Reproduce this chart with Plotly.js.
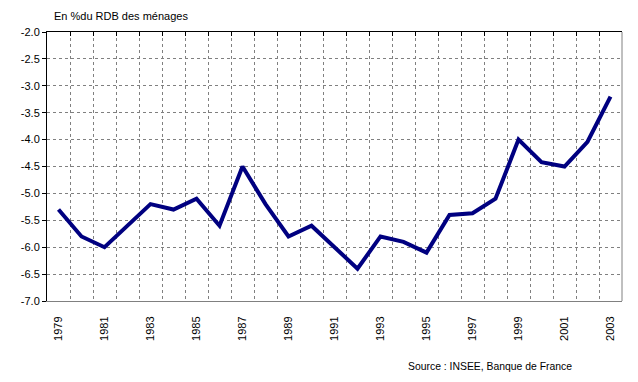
<!DOCTYPE html>
<html>
<head>
<meta charset="utf-8">
<script src="https://cdn.plot.ly/plotly-3.0.1.min.js"></script>
<style>
html,body{margin:0;padding:0;background:#fff;}
#chart{width:638px;height:382px;}
</style>
</head>
<body>
<div id="chart"></div>
<script>
const years = [1979,1980,1981,1982,1983,1984,1985,1986,1987,1988,1989,1990,1991,1992,1993,1994,1995,1996,1997,1998,1999,2000,2001,2002,2003];
const values = [-5.3,-5.8,-6.0,-5.6,-5.2,-5.3,-5.1,-5.6,-4.5,-5.2,-5.8,-5.6,-6.0,-6.4,-5.8,-5.9,-6.1,-5.4,-5.37,-5.1,-4.0,-4.42,-4.5,-4.04,-3.2];
const labelYears = [1979,1981,1983,1985,1987,1989,1991,1993,1995,1997,1999,2001,2003];
const labelText = labelYears.map(String);
const yTicks = [-7.0,-6.5,-6.0,-5.5,-5.0,-4.5,-4.0,-3.5,-3.0,-2.5,-2.0];
const yTickText = ["-7.0","-6.5","-6.0","-5.5","-5.0","-4.5","-4.0","-3.5","-3.0","-2.5","-2.0"];
const titleText = "En %du RDB des ménages";
const sourceText = "Source : INSEE, Banque de France";

const boundaries = years.slice(0, -1).map(y => y + 0.5);
const xRange = [years[0] - 0.5, years[years.length - 1] + 0.5];
const font = {family: "Liberation Sans, Arial, sans-serif", size: 11, color: "#000"};

const traces = [
  {x: years, y: values, type: "scatter", mode: "lines",
   line: {color: "#000080", width: 4}, hoverinfo: "x+y"},
  {x: years, y: values, type: "scatter", mode: "lines", xaxis: "x2",
   line: {color: "rgba(0,0,0,0)", width: 0}, hoverinfo: "skip", showlegend: false}
];

const layout = {
  width: 638, height: 382,
  margin: {l: 47, r: 16, t: 32, b: 81},
  paper_bgcolor: "#fff", plot_bgcolor: "#fff",
  showlegend: false,
  font: font,
  xaxis: {
    range: xRange, tickvals: labelYears, ticktext: labelText, tickangle: -90,
    showgrid: false, zeroline: false, ticks: "",
    showline: true, linecolor: "#808080", linewidth: 1,
    ticklabelstandoff: 10,
    tickfont: font,
    minor: {showgrid: true, tickvals: boundaries, gridcolor: "#808080", griddash: "3px,3px", gridwidth: 1}
  },
  xaxis2: {
    overlaying: "x", side: "top", range: xRange, tickvals: boundaries,
    showticklabels: false, showgrid: false, zeroline: false,
    ticks: "inside", ticklen: 4, tickcolor: "#000", tickwidth: 1,
    showline: true, linecolor: "#000", linewidth: 1
  },
  yaxis: {
    range: [-7, -2], tickvals: yTicks, ticktext: yTickText,
    showgrid: true, gridcolor: "#808080", griddash: "3px,3px", gridwidth: 1,
    zeroline: false, ticks: "outside", ticklen: 4, tickcolor: "#000", tickwidth: 1,
    showline: true, linecolor: "#000", linewidth: 1,
    tickfont: font
  },
  shapes: [
    {type: "line", xref: "paper", yref: "paper", x0: 1, x1: 1, y0: 0, y1: 1,
     line: {color: "#808080", width: 1}}
  ],
  annotations: [
    {text: titleText, xref: "paper", yref: "paper", x: 0.008, y: 1, yshift: 16,
     xanchor: "left", yanchor: "middle", showarrow: false, font: font},
    {text: sourceText, xref: "paper", yref: "paper", x: 0.624, y: 0, yshift: -65,
     xanchor: "left", yanchor: "middle", showarrow: false,
     font: {family: font.family, size: 10.4, color: "#000"}}
  ]
};

Plotly.newPlot("chart", traces, layout, {staticPlot: true});
</script>
</body>
</html>
